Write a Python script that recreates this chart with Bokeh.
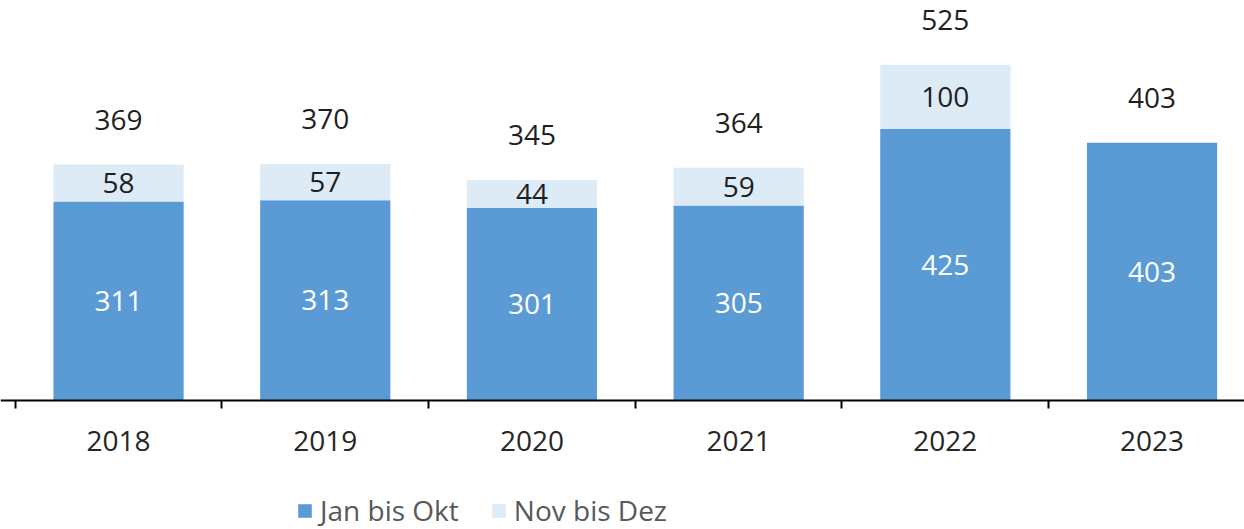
from bokeh.plotting import figure
from bokeh.models import (ColumnDataSource, Range1d, FixedTicker, Legend, LegendItem,
                          LinearAxis)
from bokeh.embed import file_html
from bokeh.resources import INLINE
from bokeh.core.properties import value

years = ["2018", "2019", "2020", "2021", "2022", "2023"]
jan_okt = [311, 313, 301, 305, 425, 403]
nov_dez = [58, 57, 44, 59, 100, 0]

series_names = ["Jan bis Okt", "Nov bis Dez"]
colors = ["#5B9BD5", "#DDEBF7"]

xs = [i + 0.5 for i in range(len(years))]
totals = [a + b for a, b in zip(jan_okt, nov_dez)]

FONT = "Open Sans"

p = figure(width=1244, height=529, output_backend="svg", toolbar_location=None,
           x_range=Range1d(-0.0711, 5.9473), y_range=Range1d(-201.7, 625.5),
           x_axis_location=None, y_axis_location=None,
           min_border_left=0, min_border_right=0,
           min_border_top=0, min_border_bottom=0)
p.outline_line_color = None
p.xgrid.visible = False
p.ygrid.visible = False
p.background_fill_color = None
p.border_fill_color = "white"

src = ColumnDataSource(dict(x=xs, top1=jan_okt, top2=totals,
                            tot=[str(t) for t in totals],
                            mid1=[v / 2 for v in jan_okt],
                            la=[str(v) for v in jan_okt]))

r1 = p.vbar(x="x", bottom=0, top="top1", width=0.63, fill_color=colors[0],
            line_color=None, source=src)
r2 = p.vbar(x="x", bottom="top1", top="top2", width=0.63, fill_color=colors[1],
            line_color=None, source=src)

# labels inside bottom segment (white)
p.text(x="x", y="mid1", text="la", source=src, text_align="center",
       text_baseline="middle", text_color="white", text_font=value(FONT),
       text_font_size="28px")

# labels inside top segment (dark) only where present
idx = [i for i, v in enumerate(nov_dez) if v > 0]
src2 = ColumnDataSource(dict(x=[xs[i] for i in idx],
                             y=[jan_okt[i] + nov_dez[i] / 2 for i in idx],
                             t=[str(nov_dez[i]) for i in idx]))
p.text(x="x", y="y", text="t", source=src2, text_align="center",
       text_baseline="middle", text_color="#1f1f1f", text_font=value(FONT),
       text_font_size="28px")

# totals above bars
p.text(x="x", y="top2", text="tot", source=src, text_align="center",
       text_baseline="middle", text_color="#1f1f1f", text_font=value(FONT),
       text_font_size="28px", y_offset=-45)

ax = LinearAxis(fixed_location=0)
ax.ticker = FixedTicker(ticks=xs, minor_ticks=list(range(len(years) + 1)))
ax.major_label_overrides = {x: y for x, y in zip(xs, years)}
ax.axis_line_width = 2
ax.axis_line_color = "black"
ax.major_tick_out = 0
ax.major_tick_in = 0
ax.minor_tick_out = 8
ax.minor_tick_in = 0
ax.minor_tick_line_width = 2
ax.minor_tick_line_color = "black"
ax.major_label_standoff = 22
ax.major_label_text_font = FONT
ax.major_label_text_font_size = "28px"
ax.major_label_text_color = "#262626"
p.add_layout(ax, "below")

legend = Legend(items=[LegendItem(label=series_names[0], renderers=[r1]),
                       LegendItem(label=series_names[1], renderers=[r2])],
                orientation="horizontal", location=(296, 0),
                glyph_width=17, glyph_height=17, label_standoff=7, spacing=31,
                label_text_font=FONT, label_text_font_size="28px",
                label_text_color="#595959", border_line_color=None,
                background_fill_alpha=0, padding=0, margin=0)
p.add_layout(legend, "center")

open("out.html", "w").write(file_html(p, INLINE))
